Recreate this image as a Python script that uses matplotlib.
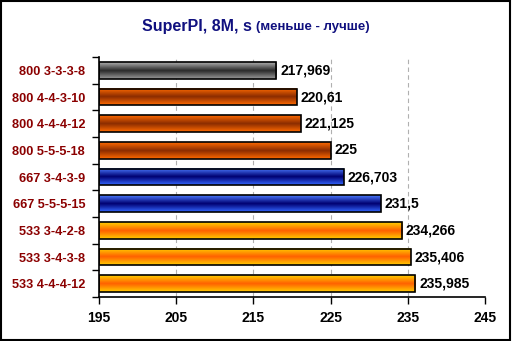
import matplotlib.pyplot as plt
import numpy as np
from matplotlib.colors import LinearSegmentedColormap
from matplotlib.patches import Rectangle

plt.rcParams['font.family'] = ['Liberation Sans', 'DejaVu Sans']

# данные
категории = ['800 3-3-3-8', '800 4-4-3-10', '800 4-4-4-12', '800 5-5-5-18',
             '667 3-4-3-9', '667 5-5-5-15', '533 3-4-2-8', '533 3-4-3-8', '533 4-4-4-12']
значения = [217.969, 220.61, 221.125, 225, 226.703, 231.5, 234.266, 235.406, 235.985]
подписи = ['217,969', '220,61', '221,125', '225', '226,703', '231,5', '234,266', '235,406', '235,985']
группы = ['gray', 'brown', 'brown', 'brown', 'blue', 'blue', 'gold', 'gold', 'gold']
градиенты = {
    'gray': ['#b0b0b0', '#2a2a2a', '#9a9a9a'],
    'brown': ['#ff6a00', '#8a2c00', '#ff6a00'],
    'blue': ['#4a7aff', '#000070', '#3366ff'],
    'gold': ['#ffd000', '#ff6000', '#ffcc00'],
}
x_ticks = [195, 205, 215, 225, 235, 245]

fig = plt.figure(figsize=(5.12, 3.41), dpi=100)
ax = fig.add_axes([99 / 512, 1 - 297 / 341, 386 / 512, 240 / 341])

n = len(категории)
y = np.arange(n)
h = 0.62

grad = np.linspace(0, 1, 64).reshape(-1, 1)
for i in range(n):
    cmap = LinearSegmentedColormap.from_list('g', градиенты[группы[i]])
    ax.imshow(grad, cmap=cmap, aspect='auto', zorder=2,
              extent=[195, значения[i], y[i] + h / 2, y[i] - h / 2])
    ax.add_patch(Rectangle((195, y[i] - h / 2), значения[i] - 195, h,
                           fill=False, edgecolor='black', lw=1.2, zorder=3))
    ax.text(значения[i] + 0.5, y[i], подписи[i], va='center', ha='left',
            fontsize=10, fontweight='bold', color='black', zorder=4)
ax.set_xlim(195, 245)
ax.set_ylim(n - 0.5, -0.5)

ax.set_xticks(x_ticks)
ax.set_xticklabels([str(t) for t in x_ticks], fontsize=10, fontweight='bold')
ax.set_yticks(y)
ax.set_yticklabels(категории, fontsize=9.2, fontweight='bold', color='#8b0000')
ax.set_yticks(np.arange(-0.5, n, 1), minor=True)
ax.tick_params(axis='y', which='major', length=0, pad=10)
ax.tick_params(axis='y', which='minor', length=5, width=1, direction='out')
ax.tick_params(axis='x', length=5, width=1, direction='out', pad=5)
for t in x_ticks[1:-1]:
    ax.axvline(t, color='#b0b0b0', lw=0.8, ls=(0, (4, 3)), zorder=1)
ax.spines['top'].set_visible(False)
ax.spines['right'].set_visible(False)
ax.spines['left'].set_linewidth(1.2)
ax.spines['bottom'].set_linewidth(1.2)

fig.text(0.5, 1 - 27 / 341, 'SuperPI, 8M, s ', ha='right', va='center',
         fontsize=11.5, fontweight='bold', color='#10107f')
fig.text(0.5, 1 - 27 / 341, '(меньше - лучше)', ha='left', va='center',
         fontsize=9.5, fontweight='bold', color='#10107f')

fig.patches.append(Rectangle((0.002, 0.004), 0.994, 0.992, transform=fig.transFigure,
                             fill=False, edgecolor='black', lw=1.5))

fig.savefig('out.png', dpi=100)
